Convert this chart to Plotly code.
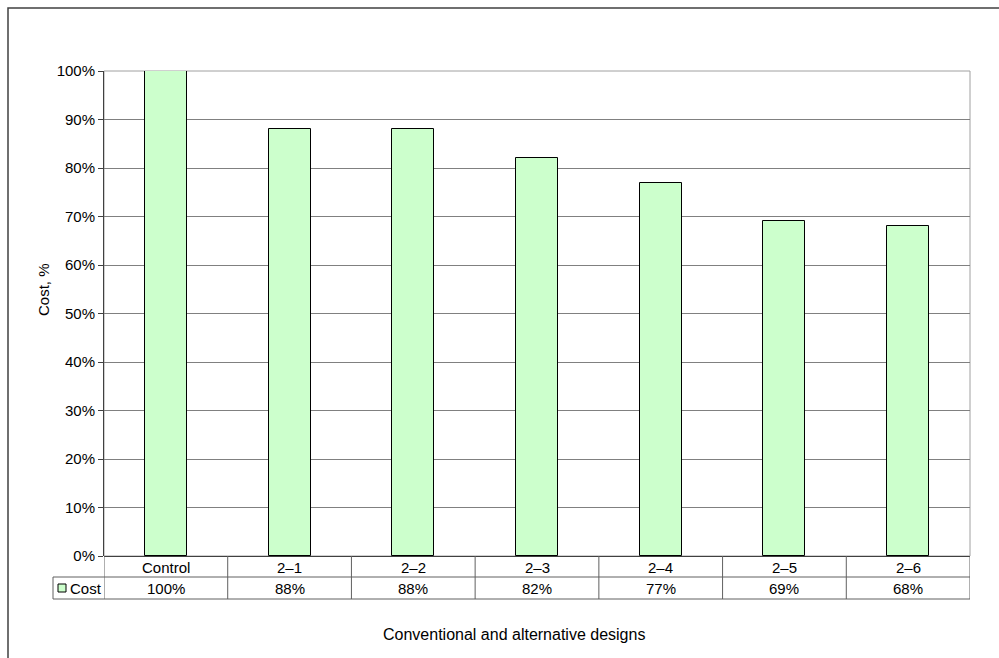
import plotly.graph_objects as go

# Cost of each design relative to the control
categories = ["Control", "2\u20131", "2\u20132", "2\u20133", "2\u20134", "2\u20135", "2\u20136"]
cost = [100, 88, 88, 82, 77, 69, 68]
y_ticks = [0, 10, 20, 30, 40, 50, 60, 70, 80, 90, 100]
series_name = "Cost"

W, H = 999, 658
FONT = "Liberation Sans, Arial, sans-serif"

# plot-area geometry in pixels
px_left, px_right = 104, 970
px_top, px_bottom = 71, 556
row1_bottom, row2_bottom = 577, 599
legend_left = 53


def fx(px):
    return px / W


def fy(py):
    return (H - py) / H


fig = go.Figure()
fig.add_trace(go.Bar(
    x=list(range(len(categories))),
    y=cost,
    width=0.34,
    marker=dict(color="#CCFFCC", line=dict(color="#000000", width=1)),
    name=series_name,
    hoverinfo="skip",
))

shapes = []
# plot-area border
shapes.append(dict(type="rect", xref="paper", yref="paper",
                   x0=fx(px_left), x1=fx(px_right), y0=fy(px_bottom), y1=fy(px_top),
                   line=dict(color="#a0a0a0", width=1), layer="below"))
# outer frame
shapes.append(dict(type="rect", xref="paper", yref="paper",
                   x0=fx(8), x1=1.05, y0=-0.05, y1=fy(8),
                   line=dict(color="#404040", width=1.5)))

# data table lines
tcol = "#606060"
for x0, x1, yy in [(px_left, px_right, row1_bottom), (legend_left, px_right, row2_bottom),
                   (legend_left, px_left, row1_bottom)]:
    shapes.append(dict(type="line", xref="paper", yref="paper",
                       x0=fx(x0), x1=fx(x1), y0=fy(yy), y1=fy(yy),
                       line=dict(color=tcol, width=1)))
shapes.append(dict(type="line", xref="paper", yref="paper",
                   x0=fx(legend_left), x1=fx(legend_left), y0=fy(row1_bottom), y1=fy(row2_bottom),
                   line=dict(color=tcol, width=1)))
for i in range(len(categories) + 1):
    xb = i - 0.5
    shapes.append(dict(type="line", xref="x", yref="paper",
                       x0=xb, x1=xb, y0=fy(px_bottom), y1=fy(row2_bottom),
                       line=dict(color=tcol, width=1)))
# legend key
shapes.append(dict(type="rect", xref="paper", yref="paper",
                   x0=fx(58), x1=fx(66), y0=fy(592), y1=fy(584),
                   fillcolor="#CCFFCC", line=dict(color="#000000", width=1)))

cell_font = dict(family=FONT, size=15, color="#000")
annotations = []
for i, (c, v) in enumerate(zip(categories, cost)):
    annotations.append(dict(x=i, y=fy((px_bottom + row1_bottom) / 2 + 0.5), xref="x", yref="paper",
                            xanchor="center", yanchor="middle",
                            text=c, showarrow=False, font=cell_font))
    annotations.append(dict(x=i, y=fy((row1_bottom + row2_bottom) / 2 + 0.5), xref="x", yref="paper",
                            xanchor="center", yanchor="middle",
                            text=f"{v}%", showarrow=False, font=cell_font))
annotations.append(dict(x=fx(68), y=fy((row1_bottom + row2_bottom) / 2 + 0.5), xref="paper", yref="paper",
                        xanchor="left", yanchor="middle", text=series_name, showarrow=False,
                        font=cell_font))
annotations.append(dict(x=fx(514), y=fy(634), xref="paper", yref="paper",
                        xanchor="center", yanchor="middle",
                        text="Conventional and alternative designs", showarrow=False,
                        font=dict(family=FONT, size=16, color="#000")))
annotations.append(dict(x=fx(43), y=fy(290), xref="paper", yref="paper", textangle=-90,
                        xanchor="center", yanchor="middle",
                        text="Cost, %", showarrow=False,
                        font=dict(family=FONT, size=15, color="#000")))

fig.update_layout(
    width=W, height=H,
    margin=dict(l=0, r=0, t=0, b=0, pad=0, autoexpand=False),
    paper_bgcolor="white", plot_bgcolor="white",
    showlegend=False,
    shapes=shapes,
    annotations=annotations,
    xaxis=dict(domain=[fx(px_left), fx(px_right)], range=[-0.5, len(categories) - 0.5],
               showticklabels=False, showgrid=False, zeroline=False, ticks="",
               showline=False, fixedrange=True, automargin=False),
    yaxis=dict(domain=[fy(px_bottom), fy(px_top)], range=[0, 100],
               tickvals=y_ticks, ticktext=[f"{t}%" for t in y_ticks],
               ticks="outside", ticklen=5, tickcolor="#404040",
               showline=True, linecolor="#404040", linewidth=1,
               showgrid=True, gridcolor="#808080", gridwidth=1,
               zeroline=True, zerolinecolor="#404040", zerolinewidth=1,
               tickfont=dict(family=FONT, size=15, color="#000"), fixedrange=True,
               automargin=False),
    bargap=0,
)

fig.write_html("out.html")
